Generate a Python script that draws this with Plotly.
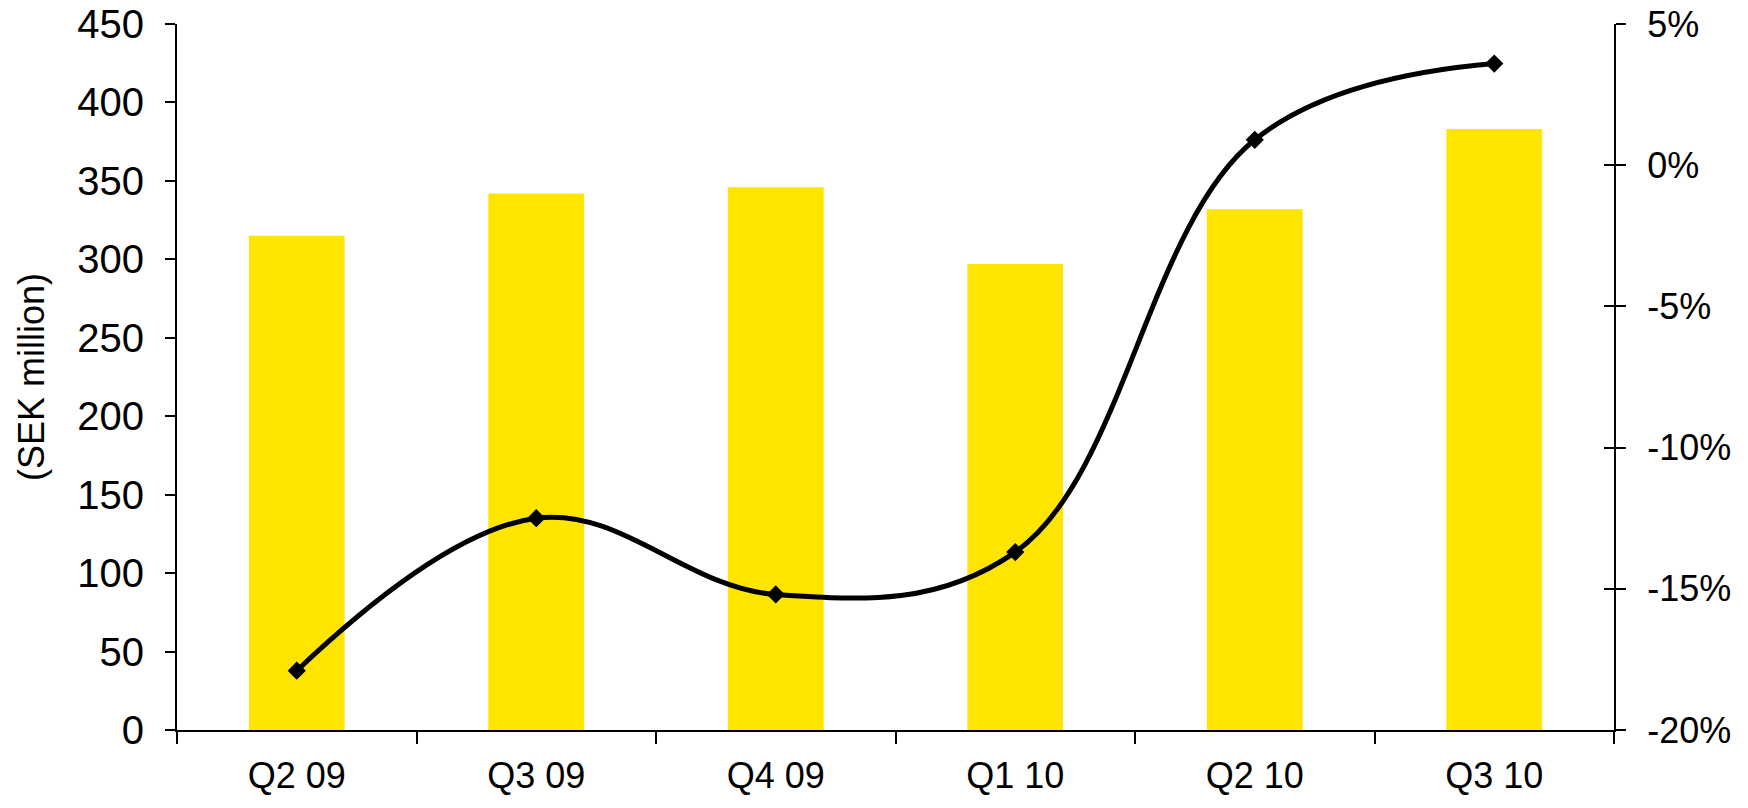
import plotly.graph_objects as go

quarters = ["Q2 09", "Q3 09", "Q4 09", "Q1 10", "Q2 10", "Q3 10"]
sales = [315, 342, 346, 297, 332, 383]
margin_pct = [-17.9, -12.5, -15.2, -13.7, 0.9, 3.6]

left_ticks = [0, 50, 100, 150, 200, 250, 300, 350, 400, 450]
right_ticks = [-20, -15, -10, -5, 0, 5]
right_tick_text = ["-20%", "-15%", "-10%", "-5%", "0%", "5%"]

FONT = "Liberation Sans, Arial, sans-serif"
fig = go.Figure()
fig.add_trace(go.Bar(x=quarters, y=sales, marker=dict(color="#FFE500", line=dict(width=0)),
                     yaxis="y", showlegend=False))
fig.add_trace(go.Scatter(x=quarters, y=margin_pct, yaxis="y2", mode="lines+markers",
                         line=dict(color="black", width=5, shape="spline", smoothing=1.1),
                         marker=dict(symbol="diamond", size=14, color="black"),
                         showlegend=False))
# invisible trace so the inner half of the right-axis crossing ticks is drawn
fig.add_trace(go.Scatter(x=quarters, y=margin_pct, yaxis="y3", mode="lines",
                         line=dict(width=0), opacity=0, showlegend=False, hoverinfo="skip"))

fig.update_layout(
    width=1748, height=808,
    margin=dict(l=177, r=134, t=24, b=78, autoexpand=False),
    paper_bgcolor="white", plot_bgcolor="white",
    font=dict(family=FONT, size=36, color="black"),
    bargap=0.6,
    xaxis=dict(showline=True, linecolor="black", linewidth=2, ticks="outside", ticklen=12,
               tickwidth=2, tickcolor="black", tickson="boundaries", showgrid=False,
               ticklabelstandoff=13, tickfont=dict(size=36), automargin=False),
    yaxis=dict(range=[0, 450], tickvals=left_ticks, showline=True, linecolor="black",
               linewidth=2, ticks="outside", ticklen=10, tickwidth=2, tickcolor="black",
               showgrid=False, zeroline=False, ticklabelstandoff=13, automargin=False,
               tickfont=dict(size=40),
               title=dict(text="(SEK million)", font=dict(size=36), standoff=22)),
    yaxis2=dict(range=[-20, 5], tickvals=right_ticks, ticktext=right_tick_text,
                overlaying="y", side="right", showline=True, linecolor="black", linewidth=2,
                ticks="outside", ticklen=10, tickwidth=2, tickcolor="black",
                showgrid=False, zeroline=False, ticklabelstandoff=14, automargin=False,
                tickfont=dict(size=36)),
    yaxis3=dict(range=[-20, 5], tickvals=right_ticks, overlaying="y", side="right",
                showline=False, ticks="inside", ticklen=10, tickwidth=2, tickcolor="black",
                showticklabels=False, showgrid=False, zeroline=False, automargin=False),
)
fig.write_html("out.html")
